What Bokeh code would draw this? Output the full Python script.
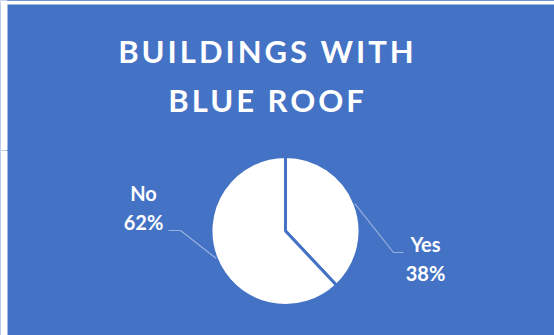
from bokeh.plotting import figure
from bokeh.models import Range1d, InlineStyleSheet, BoxAnnotation
from bokeh.layouts import column
from bokeh.core.properties import value
from bokeh.embed import file_html
from bokeh.resources import INLINE
import numpy as np

# ---- data ----
categories = ["Yes", "No"]
shares = [38, 62]
pct_labels = ["38%", "62%"]
title_lines = ["BUILDINGS WITH", "BLUE ROOF"]

# ---- style / layout ----
BLUE = "#4472C4"
W = 554
BL, BT = 7, 4            # white margin left / top
TH, PH = 150, 185        # title figure / pie figure heights
CX, CY, R = 278, 104.5, 74.5
FONT = value("Lato")
SPACING = 3


def base_fig(height):
    f = figure(width=W, height=height, output_backend="svg", toolbar_location=None,
               x_range=Range1d(-BL, W - BL), y_range=Range1d(0, height),
               min_border_left=0, min_border_top=0, min_border_right=0,
               min_border_bottom=0)
    f.border_fill_color = BLUE
    f.background_fill_color = BLUE
    f.outline_line_color = None
    f.axis.visible = False
    f.grid.visible = False
    f.add_layout(BoxAnnotation(right=0, fill_color="white", fill_alpha=1,
                               line_color=None))
    return f


# title figure (letter-spaced title like the original)
t = base_fig(TH)
t.add_layout(BoxAnnotation(bottom=TH - BT, fill_color="white", fill_alpha=1,
                           line_color=None))
t.stylesheets = [InlineStyleSheet(css=":host { letter-spacing: %dpx; }" % SPACING)]
tx = [260 - SPACING * len(s) / 2 for s in title_lines]
t.text(x=tx, y=[100, 51], text=title_lines, text_font=FONT,
       text_font_style="bold", text_font_size="31px", text_color="white",
       text_align="center", text_baseline="alphabetic")

# pie figure
p = base_fig(PH)
vals = np.array(shares, dtype=float)
frac = vals / vals.sum()
cum = np.concatenate([[0], np.cumsum(frac)])
start = np.pi / 2 - cum[1:] * 2 * np.pi
end = np.pi / 2 - cum[:-1] * 2 * np.pi
p.wedge(x=CX, y=CY, radius=R, start_angle=start, end_angle=end,
        fill_color="white", line_color=BLUE, line_width=3)

# leader lines from mid-angle edge point to labels
mid = (start + end) / 2
ex = CX + R * np.cos(mid)
ey = CY + R * np.sin(mid)
elbow = {"Yes": (386, 83), "No": (173, 105)}
tail = {"Yes": (396, 83), "No": (161, 105)}
lab_pos = {"Yes": (418, 92, 63), "No": (136, 143, 114)}
for i, c in enumerate(categories):
    p.line([ex[i], elbow[c][0], tail[c][0]], [ey[i], elbow[c][1], tail[c][1]],
           line_color="white", line_alpha=0.45, line_width=1.2)
    lx, y1, y2 = lab_pos[c]
    p.text(x=[lx, lx], y=[y1, y2], text=[c, pct_labels[i]], text_font=FONT,
           text_font_style="bold", text_font_size="20px", text_color="white",
           text_align="center", text_baseline="alphabetic")

layout = column(t, p, spacing=0)
bg = "linear-gradient(to right, white %dpx, %s %dpx)" % (BL, BLUE, BL)
layout.stylesheets = [InlineStyleSheet(css=":host { background: %s; gap: 0; }" % bg)]
open("out.html", "w").write(file_html(layout, INLINE))
